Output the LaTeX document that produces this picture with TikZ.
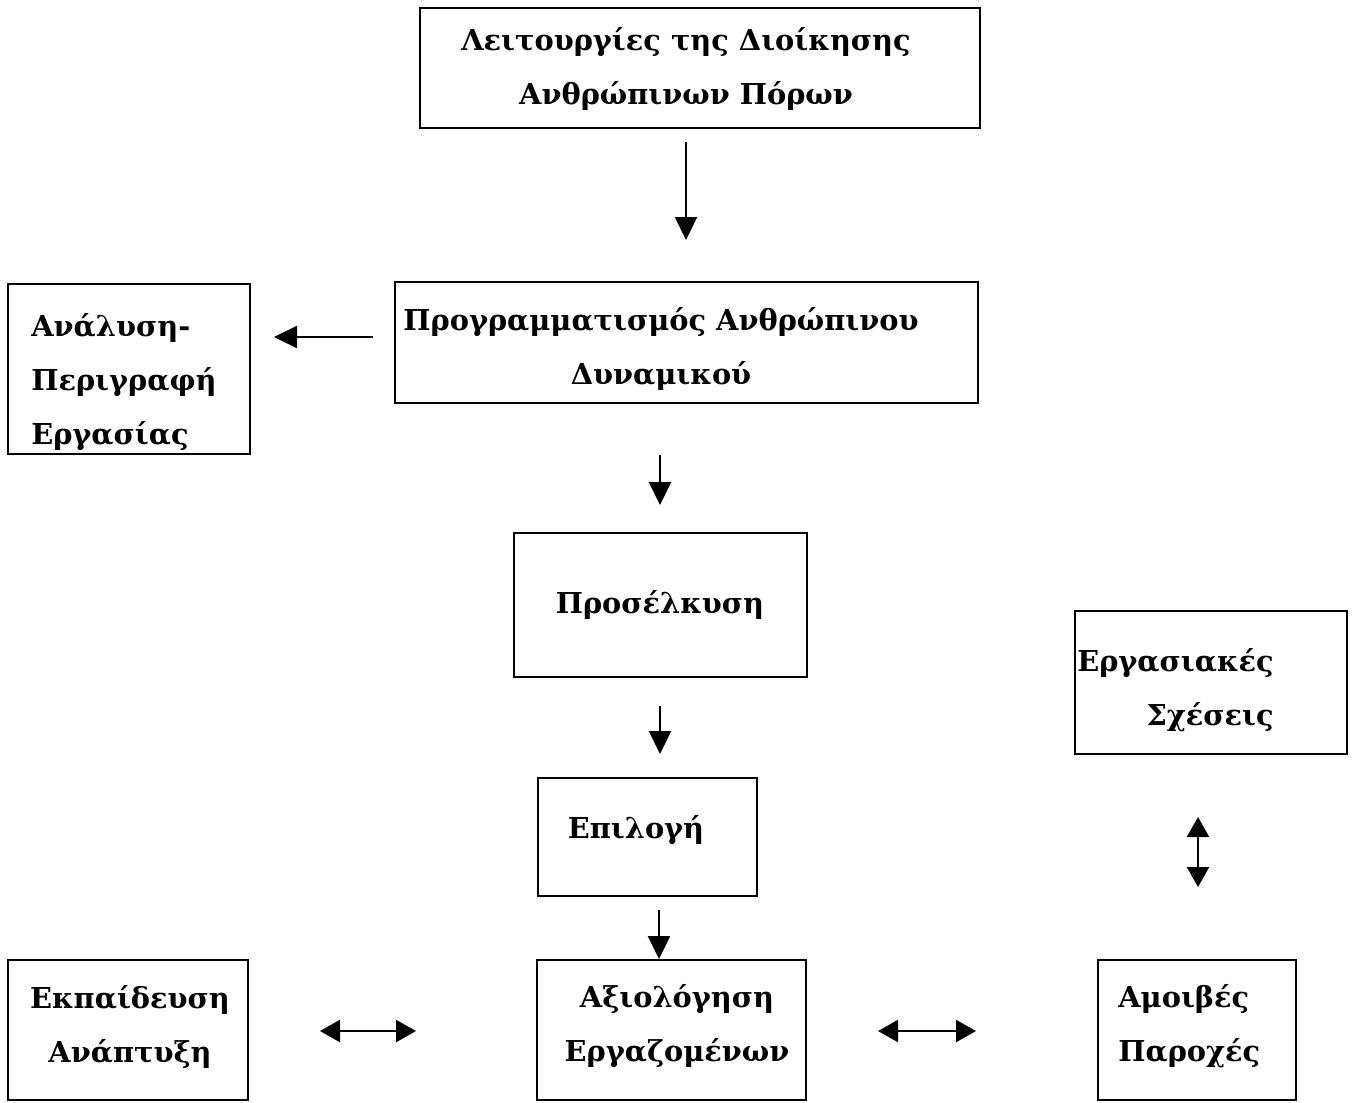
\documentclass[tikz,border=0pt]{standalone}
\usepackage{fontspec}
\setmainfont{DejaVu Serif}
\usetikzlibrary{arrows.meta}
\tikzset{
  box/.style={draw, line width=1.3pt, inner sep=0pt},
  txt/.style={font=\bfseries\fontsize{16.4}{31}\selectfont, inner sep=0pt},
  arr/.style={line width=1.3pt, -{Triangle[length=0.46cm,width=0.44cm]}},
  darr/.style={line width=1.3pt, {Triangle[length=0.4cm,width=0.44cm]}-{Triangle[length=0.4cm,width=0.44cm]}}
}
\begin{document}
\begin{tikzpicture}[x=0.02cm, y=-0.02cm]
        \useasboundingbox (0,0) rectangle (1354,1102);
        % boxes
        \node[box, minimum width=11.2cm, minimum height=2.4cm] (top) at (700,68) {};
        \node[box, minimum width=11.66cm, minimum height=2.42cm] (prog) at (686.5,342.5) {};
        \node[box, minimum width=4.84cm, minimum height=3.4cm] (anal) at (129,369) {};
        \node[box, minimum width=5.86cm, minimum height=2.88cm] (prosel) at (660.5,605) {};
        \node[box, minimum width=5.44cm, minimum height=2.86cm] (ergas) at (1211,682.5) {};
        \node[box, minimum width=4.38cm, minimum height=2.36cm] (epil) at (647.5,837) {};
        \node[box, minimum width=4.8cm, minimum height=2.8cm] (ekp) at (128,1030) {};
        \node[box, minimum width=5.38cm, minimum height=2.8cm] (axiol) at (671.5,1030) {};
        \node[box, minimum width=3.96cm, minimum height=2.8cm] (amoiv) at (1197,1030) {};
        % texts
        \node[txt, align=center] (toptxt) at (686,69) {Λειτουργίες της Διοίκησης\\Ανθρώπινων Πόρων};
        \node[txt, align=center] (progtxt) at (661,349) {Προγραμματισμός Ανθρώπινου\\Δυναμικού};
        \node[txt, align=left, anchor=west] (analtxt) at (31,382) {Ανάλυση-\\Περιγραφή\\Εργασίας};
        \node[txt] (proseltxt) at (660,605) {Προσέλκυση};
        \node[txt, align=right, anchor=east] (ergastxt) at (1274,690) {Εργασιακές\\Σχέσεις};
        \node[txt] (epiltxt) at (636,830) {Επιλογή};
        \node[txt, align=center] (ekptxt) at (130,1027) {Εκπαίδευση\\Ανάπτυξη};
        \node[txt, align=center] (axioltxt) at (677,1026) {Αξιολόγηση\\Εργαζομένων};
        \node[txt, align=left, anchor=west] (amoivtxt) at (1118,1026) {Αμοιβές\\Παροχές};
        % arrow ends
        \coordinate (a1s) at (686,142); \coordinate (a1e) at (686,240);
        \coordinate (a2s) at (373,337); \coordinate (a2e) at (274,337);
        \coordinate (a3s) at (660,455); \coordinate (a3e) at (660,505);
        \coordinate (a4s) at (660,706); \coordinate (a4e) at (660,754);
        \coordinate (a5s) at (659,910); \coordinate (a5e) at (659,959);
        \coordinate (d1s) at (320,1031); \coordinate (d1e) at (416,1031);
        \coordinate (d2s) at (878,1031); \coordinate (d2e) at (976,1031);
        \coordinate (d3s) at (1198,817); \coordinate (d3e) at (1198,887);
        \foreach \s/\e in {a1s/a1e,a2s/a2e,a3s/a3e,a4s/a4e,a5s/a5e}
          \draw[arr] (\s) -- (\e);
        \foreach \s/\e in {d1s/d1e,d2s/d2e,d3s/d3e}
          \draw[darr] (\s) -- (\e);
    \end{tikzpicture}
\end{document}
